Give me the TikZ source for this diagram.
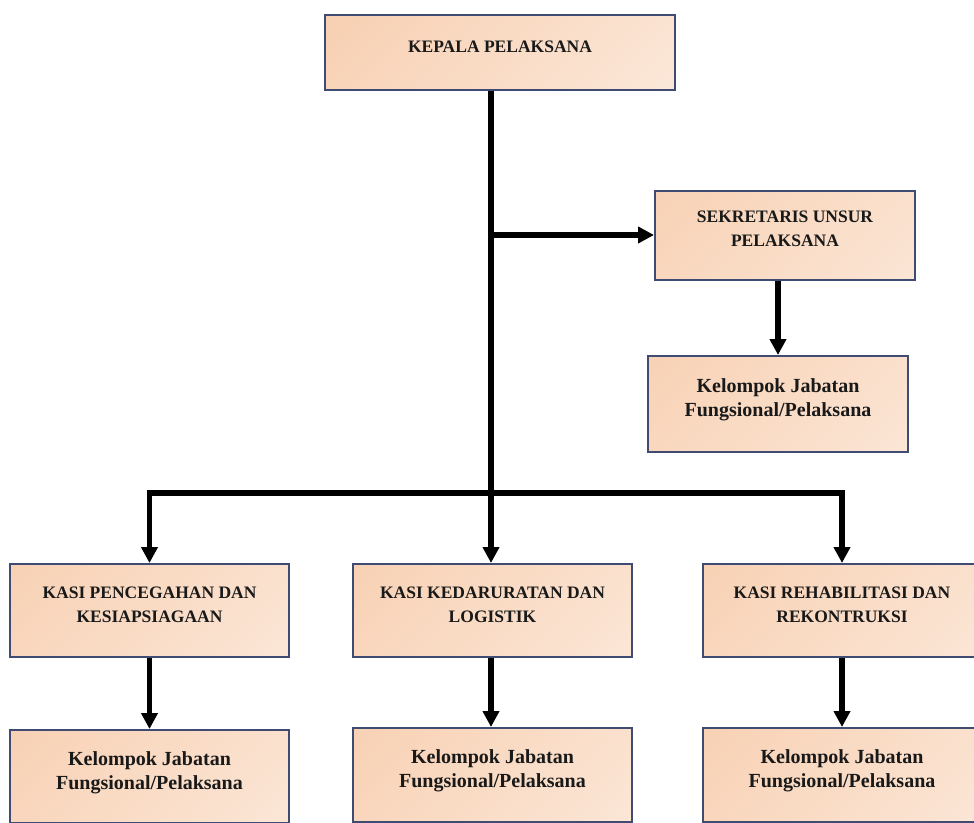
\documentclass[tikz,border=0pt]{standalone}
\usepackage{fontspec}
\setmainfont{Liberation Serif}
\usetikzlibrary{arrows.meta}
\definecolor{unitedge}{HTML}{3F4B72}
\definecolor{unitdark}{HTML}{F6C6A2}
\definecolor{unitlight}{HTML}{FDF1E8}
\tikzset{
  unit/.style={rectangle, draw=unitedge, line width=2pt, align=center, inner sep=0pt, text depth=12pt, text=black!90,
    path picture={\shade [left color=unitdark, right color=unitlight, shading angle=45] (path picture bounding box.center) circle [radius=270pt];},
    font=\bfseries\fontsize{17.5}{24}\selectfont},
  func/.style={unit, font=\bfseries\fontsize{20}{24}\selectfont},
  link/.style={line width=5.5pt},
  linkto/.style={link, -{Triangle[length=16pt,width=16pt]}},
}
\newcommand{\orgunit}[5] {\node at (#1) (#2) [unit, minimum width=#3, minimum height=#4] {#5};}
\newcommand{\orgfunc}[5] {\node at (#1) (#2) [func, minimum width=#3, minimum height=#4] {#5};}
\newcommand{\orglink}[2] {\draw [linkto] (#1) -- (#2);}
\newcommand{\orgelbow}[2] {\draw [linkto] (#1) -| (#2);}

\begin{document}
\begin{tikzpicture}[x=1pt, y=-1pt]
\useasboundingbox (0,0) rectangle (974,822);
\clip (0,0) rectangle (974,822);

\orgunit {500,52.5}{kepala}{350pt}{75pt}{KEPALA PELAKSANA}
\orgunit {785,235}{sekretaris}{260pt}{89pt}{SEKRETARIS UNSUR\\PELAKSANA}
\orgfunc {778,404}{funcsek}{260pt}{96pt}{Kelompok Jabatan\\Fungsional/Pelaksana}

\orgunit {149.5,610.5}{kasicegah}{279pt}{93pt}{KASI PENCEGAHAN DAN\\KESIAPSIAGAAN}
\orgunit {492.5,610.5}{kasidarurat}{279pt}{93pt}{KASI KEDARURATAN DAN\\LOGISTIK}
\orgunit {842,610.5}{kasirehab}{279pt}{93pt}{KASI REHABILITASI DAN\\REKONTRUKSI}

\orgfunc {149.5,776.5}{funccegah}{279pt}{93pt}{Kelompok Jabatan\\Fungsional/Pelaksana}
\orgfunc {492.5,775}{funcdarurat}{279pt}{94pt}{Kelompok Jabatan\\Fungsional/Pelaksana}
\orgfunc {842,775}{funcrehab}{279pt}{94pt}{Kelompok Jabatan\\Fungsional/Pelaksana}

% trunk and branches
\coordinate (bus) at (491,493);
\draw [link] (kepala.south -| bus) -- (bus);
\orglink {bus |- sekretaris.west}{sekretaris.west}
\orglink {funcsek.north |- sekretaris.south}{funcsek.north}

\orgelbow {bus}{kasicegah.north}
\orglink {bus}{bus |- kasidarurat.north}
\orgelbow {bus}{kasirehab.north}

\orglink {kasicegah.south}{funccegah.north}
\orglink {kasidarurat.south -| bus}{bus |- funcdarurat.north}
\orglink {kasirehab.south}{funcrehab.north}

\end{tikzpicture}
\end{document}
